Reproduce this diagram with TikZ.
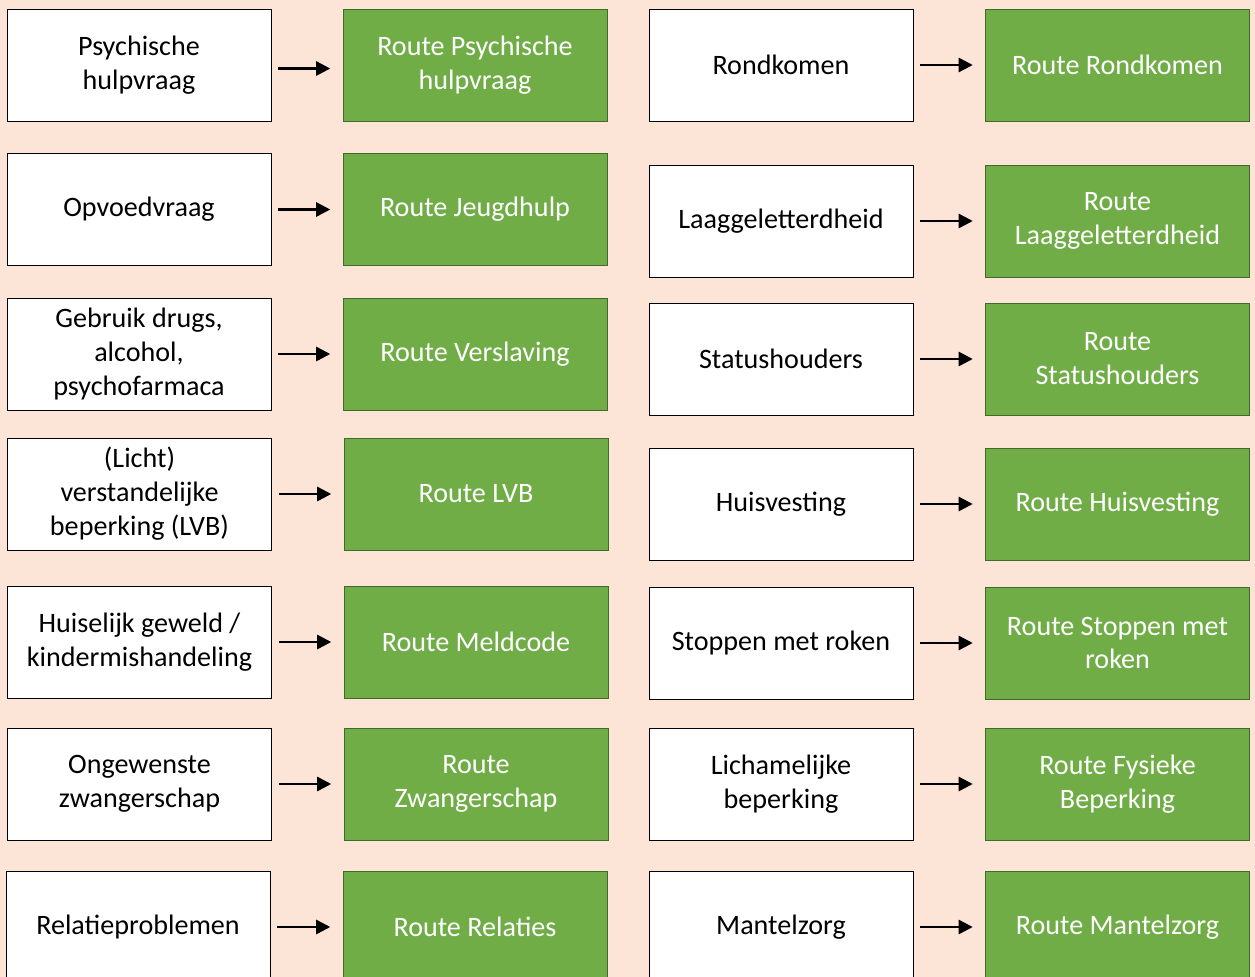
\documentclass[tikz,border=0pt]{standalone}
\usepackage{fontspec}
\setmainfont{Carlito}
\usetikzlibrary{arrows.meta}
\definecolor{peach}{HTML}{FCE4D6}
\definecolor{routegreen}{HTML}{70AD47}
\definecolor{routeedge}{HTML}{3F6A2A}
\begin{document}
\begin{tikzpicture}[
  font=\fontsize{16}{19.3}\selectfont,
  vraag/.style={draw=black, line width=0.5pt, fill=white, minimum width=5.28cm, minimum height=2.24cm, inner sep=0pt, align=center},
  route/.style={draw=routeedge, line width=0.5pt, fill=routegreen, text=white, minimum width=5.28cm, minimum height=2.24cm, inner sep=0pt, align=center},
  pijl/.style={-{Triangle[length=8pt, width=8pt]}, line width=1.4pt, shorten <=4pt, shorten >=7pt}
]
\fill[peach] (0,0) rectangle (25.1,-19.54);
\useasboundingbox (0,0) rectangle (25.1,-19.54);
\clip (0,0) rectangle (25.1,-19.54);
% linker kolom
\node[vraag] (V1) at (2.78,-1.30) {Psychische\\hulpvraag};
\node[route] (R1) at (9.50,-1.30) {Route Psychische\\hulpvraag};
\node[vraag] (V2) at (2.78,-4.19) {Opvoedvraag};
\node[route] (R2) at (9.50,-4.19) {Route Jeugdhulp};
\node[vraag] (V3) at (2.78,-7.08) {Gebruik drugs,\\alcohol,\\psychofarmaca};
\node[route] (R3) at (9.50,-7.08) {Route Verslaving};
\node[vraag] (V4) at (2.79,-9.88) {(Licht)\\verstandelijke\\beperking (LVB)};
\node[route] (R4) at (9.52,-9.88) {Route LVB};
\node[vraag] (V5) at (2.79,-12.84) {Huiselijk geweld /\\kindermishandeling};
\node[route] (R5) at (9.52,-12.84) {Route Meldcode};
\node[vraag] (V6) at (2.79,-15.68) {Ongewenste\\zwangerschap};
\node[route] (R6) at (9.52,-15.68) {Route\\Zwangerschap};
\node[vraag] (V7) at (2.76,-18.54) {Relatieproblemen};
\node[route] (R7) at (9.50,-18.54) {Route Relaties};
% rechter kolom
\node[vraag] (V8) at (15.62,-1.30) {Rondkomen};
\node[route] (R8) at (22.35,-1.30) {Route Rondkomen};
\node[vraag] (V9) at (15.62,-4.42) {Laaggeletterdheid};
\node[route] (R9) at (22.35,-4.42) {Route\\Laaggeletterdheid};
\node[vraag] (V10) at (15.62,-7.18) {Statushouders};
\node[route] (R10) at (22.35,-7.18) {Route\\Statushouders};
\node[vraag] (V11) at (15.62,-10.08) {Huisvesting};
\node[route] (R11) at (22.35,-10.08) {Route Huisvesting};
\node[vraag] (V12) at (15.62,-12.86) {Stoppen met roken};
\node[route] (R12) at (22.35,-12.86) {Route Stoppen met\\roken};
\node[vraag] (V13) at (15.62,-15.68) {Lichamelijke\\beperking};
\node[route] (R13) at (22.35,-15.68) {Route Fysieke\\Beperking};
\node[vraag] (V14) at (15.62,-18.54) {Mantelzorg};
\node[route] (R14) at (22.35,-18.54) {Route Mantelzorg};
% pijlen
\draw[pijl] ([yshift=-2pt]V1.east) -- ([yshift=-2pt]R1.west);
\draw[pijl] (V2) -- (R2);
\draw[pijl] (V3) -- (R3);
\draw[pijl] (V4) -- (R4);
\draw[pijl] (V5) -- (R5);
\draw[pijl] (V6) -- (R6);
\draw[pijl] (V7) -- (R7);
\draw[pijl] (V8) -- (R8);
\draw[pijl] (V9) -- (R9);
\draw[pijl] (V10) -- (R10);
\draw[pijl] (V11) -- (R11);
\draw[pijl] (V12) -- (R12);
\draw[pijl] (V13) -- (R13);
\draw[pijl] (V14) -- (R14);
\end{tikzpicture}
\end{document}
